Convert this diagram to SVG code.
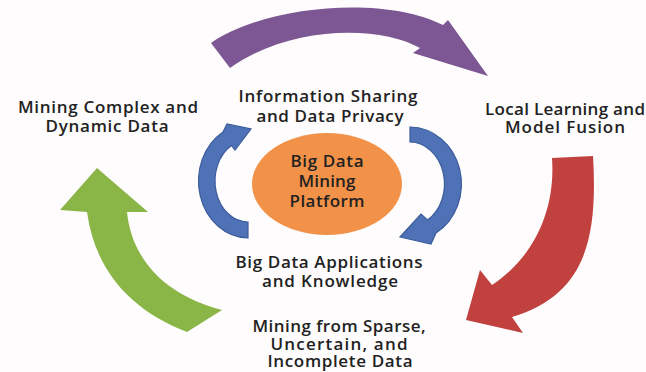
<svg xmlns="http://www.w3.org/2000/svg" width="646" height="372" viewBox="0 0 646 372">
<style>
text{font-family:"Open Sans","Liberation Sans",sans-serif;font-size:17px;font-weight:600;fill:#222;text-anchor:middle}
.purple{fill:#7d5794}
.red{fill:#c0413e}
.green{fill:#8ab547}
.blue{fill:#4f72b6;stroke:#3b5c9c;stroke-width:1.2}
.orange{fill:#f29148}
</style>
<rect width="646" height="372" fill="#fefcfc"/>
<g id="connectors">
<path id="arrow-purple" class="purple" d="M211,43 C265,5 385,-5 443,25 L448,20 L488,76 L413,53 L420,48 C380,25 290,25 230,68 Z"/>
<path id="arrow-red" class="red" d="M552,158 L593,156 C598,240 585,295 512,317 L523,333 L466,320 L480,270 L492,285 C530,260 556,215 552,158 Z"/>
<path id="arrow-green" class="green" d="M97,168 L148,212 L127,212 C132,260 165,295 222,310 L187,332 C130,310 95,270 87,212 L60,210 Z"/>
<path id="arrow-blue-left" class="blue" d="M248,238 A50,57 0 0 1 223,132 L227,124 L251,129 L235,150 L231.5,145.5 A33,41 0 0 0 248,222 Z"/>
<path id="arrow-blue-right" class="blue" d="M410,127 A52,57 0 0 1 436,233 L431,244 L400,237 L421,214 L427.5,220 A35,42 0 0 0 410,142 Z"/>
</g>
<g id="platform">
<ellipse class="orange" cx="327" cy="184" rx="75" ry="51"/>
<text x="327" y="167" textLength="73">Big Data</text>
<text x="327" y="187" textLength="57">Mining</text>
<text x="327" y="207" textLength="75">Platform</text>
</g>
<g id="info-sharing">
<text x="328" y="102" textLength="179">Information Sharing</text>
<text x="330" y="122" textLength="147">and Data Privacy</text>
</g>
<g id="applications">
<text x="329" y="268" textLength="187">Big Data Applications</text>
<text x="330" y="287" textLength="136">and Knowledge</text>
</g>
<g id="mining-complex">
<text x="108" y="113" textLength="180">Mining Complex and</text>
<text x="107" y="132" textLength="123">Dynamic Data</text>
</g>
<g id="local-learning">
<text x="565" y="115" textLength="160">Local Learning and</text>
<text x="565" y="133" textLength="120">Model Fusion</text>
</g>
<g id="mining-sparse">
<text x="339" y="332" textLength="173">Mining from Sparse,</text>
<text x="339" y="350" textLength="137">Uncertain, and</text>
<text x="340" y="367" textLength="145">Incomplete Data</text>
</g>
</svg>
